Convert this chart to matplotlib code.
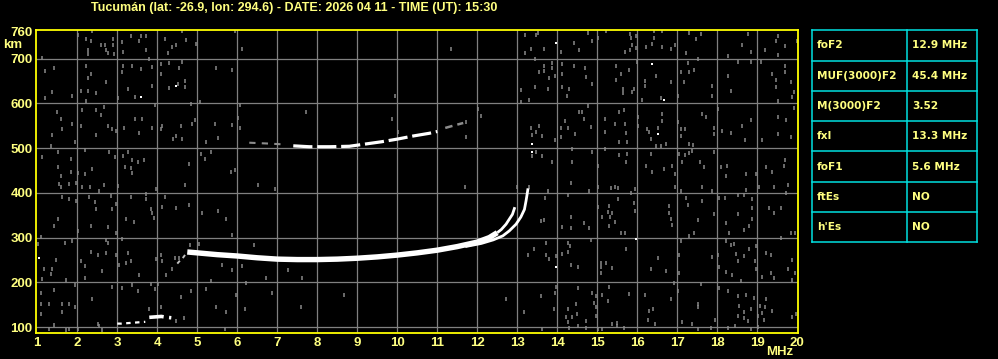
import numpy as np
import matplotlib
matplotlib.use("Agg")
import matplotlib.pyplot as plt

# ---- data ----
title = "Tucumán (lat: -26.9, lon: 294.6) - DATE: 2026 04 11 - TIME (UT): 15:30"

x_ticks = list(range(1, 21))
y_ticks = [100, 200, 300, 400, 500, 600, 700]

# F2 ordinary trace
o_freq = [4.75, 5.0, 5.5, 6.0, 6.5, 7.0, 7.5, 8.0, 8.5, 9.0, 9.5, 10.0, 10.5, 11.0,
          11.5, 12.0, 12.3, 12.5, 12.6, 12.72, 12.8, 12.88, 12.94]
o_height = [268, 266, 262, 259, 255, 252, 251, 251, 252, 254, 257, 261, 266, 272,
            280, 290, 300, 311, 318, 330, 341, 352, 368]

# F2 extraordinary trace
x_freq = [11.7, 12.1, 12.4, 12.64, 12.8, 12.97, 13.09, 13.18, 13.22, 13.24, 13.27]
x_height = [280, 287, 295, 304, 315, 330, 346, 363, 382, 393, 410]

# second hop
hop_freq = [7.4, 7.8, 8.3, 8.8, 9.2, 9.6, 10.0, 10.4, 10.8, 11.0]
hop_height = [505, 503, 503, 504, 509, 514, 520, 527, 533, 537]
hop_weak_freq = [6.3, 6.8, 7.2]
hop_weak_height = [512, 510, 508]
hop_tail_freq = [11.2, 11.4, 11.65]
hop_tail_height = [545, 550, 556]

# E region bits
e_freq = [3.0, 3.1, 3.25, 3.4, 3.55, 3.7, 3.8, 3.95, 4.1, 4.25, 4.35]
e_height = [108, 108, 109, 110, 111, 112, 122, 123, 124, 122, 121]

# bits below the F trace near 4.5 MHz
low_freq = [4.5, 4.58, 4.65, 4.7]
low_height = [242, 250, 256, 262]

# isolated white dots
white_f = [3.59, 4.48, 13.98, 16.38, 16.68, 13.38, 13.38, 16.53, 13.98, 15.98, 1.05]
white_h = [614, 639, 735, 688, 608, 509, 492, 531, 234, 296, 254]

# gray interference dots
noise_f = [
    2.03, 2.38, 2.23, 2.34, 2.26, 2.28, 2.59, 2.69, 2.72, 2.78, 2.9, 2.9, 2.93, 3.13, 3.15,
    3.34, 3.55, 3.59, 3.73, 3.73, 4.2, 4.38, 4.28, 4.47, 4.73, 4.98, 4.63, 5.94, 6.13, 1.13,
    1.19, 1.43, 2.23, 2.34, 2.26, 2.09, 2.28, 2.48, 2.73, 2.23, 1.88, 1.38, 1.19, 3.15, 3.13,
    3.36, 3.59, 3.8, 3.88, 4.09, 4.09, 4.3, 4.63, 4.55, 4.69, 4.51, 4.3, 4.69, 3.88, 3.28,
    3.45, 5.48, 5.88, 3.94, 3.03, 5.08, 4.84, 6.08, 9.94, 1.49, 1.59, 1.37, 1.34, 1.63, 1.87,
    1.95, 2.13, 2.48, 2.59, 2.68, 2.78, 2.88, 2.97, 2.48, 2.09, 3.17, 3.44, 3.63, 3.55, 3.87,
    4.13, 4.09, 4.4, 4.47, 4.59, 4.63, 4.88, 4.95, 5.23, 5.45, 5.53, 5.88, 6.02, 6.08, 7.73,
    9.88, 10.03, 1.12, 1.53, 1.84, 1.59, 1.53, 1.84, 2.03, 2.2, 2.38, 2.2, 2.8, 2.95, 3.15,
    3.28, 3.38, 3.53, 3.68, 3.2, 3.34, 3.37, 4.8, 5.09, 5.2, 5.34, 5.84, 5.94,
    11.34, 13.2, 13.48, 13.53, 14.09, 13.34, 13.2, 13.68, 14.43, 14.55, 14.78, 14.88, 15.03,
    15.23, 15.83, 15.84, 15.97, 15.88, 15.97, 15.7, 15.82, 16.43, 16.43, 16.38, 16.63, 16.63,
    16.23, 16.84, 16.95, 17.23, 17.3, 17.59, 17.48, 18.28, 18.63, 18.78, 18.84, 19.19, 19.51,
    19.48, 19.51, 19.69, 20.0, 13.44, 13.88, 13.68, 13.55, 13.66, 13.86, 13.8, 13.95, 14.13,
    14.43, 14.7, 14.73, 14.13, 13.45, 13.78, 13.09, 13.09, 13.3, 14.13, 14.24, 14.3, 14.88,
    15.48, 15.59, 15.8, 15.48, 15.65, 15.93, 15.88, 15.65, 16.0, 16.2, 16.2, 16.48, 16.84,
    16.59, 16.13, 17.18, 17.28, 17.09, 17.3, 17.43, 17.53, 17.88, 17.88, 17.03, 18.28, 18.34,
    18.53, 18.84, 19.09, 19.38, 19.48, 19.48, 19.69, 19.69, 19.84, 19.93, 19.88, 19.53, 12.03,
    12.09, 11.73, 11.73, 13.34, 13.38, 13.55, 13.62, 13.48, 13.38, 13.63, 13.48, 13.88, 13.95,
    14.09, 14.09, 14.19, 14.26, 14.45, 14.55, 14.63, 14.68, 14.78, 14.84, 14.38, 14.38, 14.88,
    15.03, 15.19, 15.19, 15.45, 15.55, 15.68, 15.7, 15.72, 15.55, 15.74, 15.55, 15.74, 15.73,
    15.19, 16.03, 16.03, 16.24, 16.3, 16.34, 16.53, 16.63, 16.63, 16.72, 16.59, 16.48, 16.34,
    16.22, 16.38, 16.68, 16.88, 16.95, 17.01, 17.09, 17.2, 17.09, 17.3, 17.4, 17.63, 17.73,
    17.93, 17.93, 18.01, 18.13, 18.34, 18.63, 18.7, 18.84, 19.13, 19.53, 19.53, 19.73, 19.84,
    19.93, 17.05, 17.2, 17.3, 17.13, 17.38, 17.57, 17.68, 17.93, 18.09, 18.24, 18.23, 18.73,
    19.38, 19.7, 19.68, 18.97, 19.22,
    1.55, 1.59, 1.8, 1.98, 2.13, 2.32, 2.55, 2.68, 3.03, 2.84, 2.97, 1.63, 1.8, 1.97, 2.3,
    2.45, 2.48, 2.88, 3.34, 3.72, 3.98, 3.73, 3.84, 3.88, 3.93, 4.13, 4.48, 4.8, 4.19, 4.69,
    5.13, 5.53, 5.73, 6.53, 6.94, 5.88, 1.53, 1.43, 2.03, 2.34, 3.23, 3.43, 2.78, 2.97, 1.09,
    1.03, 1.7, 1.88, 2.73, 2.76, 3.13, 1.48, 1.18, 1.38, 1.34, 2.09, 2.34, 2.51, 2.73,
    2.97, 3.05, 3.22, 3.34, 3.26, 2.2, 2.63, 2.2, 1.72, 1.13, 3.55, 3.98, 4.13, 4.09, 4.22,
    4.37, 4.45, 4.55, 4.82, 5.05, 5.63, 5.88, 6.13, 6.43, 5.34, 6.73, 7.63, 7.28,
    1.09, 1.43, 1.95, 1.09, 1.3, 1.63, 1.8, 1.95, 1.63, 1.09, 1.43, 1.3, 1.72, 1.8, 2.01,
    2.51, 2.55, 2.38, 2.88, 3.13, 3.38, 3.53, 3.84, 3.95, 4.03, 4.09, 3.8, 4.59, 4.84, 5.23,
    5.48, 5.73, 5.98, 6.19, 6.23, 5.7, 6.88, 7.59, 8.68, 4.68, 4.47, 2.63,
    11.7, 13.0, 13.3, 13.7, 13.78, 14.34, 14.28, 14.8, 15.03, 15.34, 15.45, 15.53, 15.53,
    15.84, 15.95, 15.93, 15.94, 15.3, 15.28, 15.38, 15.13, 15.32, 15.45, 15.3, 15.03, 14.8,
    14.68, 14.34, 14.13, 14.34, 13.68, 13.59, 15.59, 15.7, 14.84, 14.28, 14.13, 14.26, 14.32,
    13.73, 13.73, 13.8, 13.97, 13.43, 13.28, 14.34, 14.53, 15.09, 15.23, 15.09, 15.38,
    15.09, 15.73, 16.53, 16.34, 16.73, 16.8, 16.8, 16.84, 16.88, 16.95, 17.09, 17.23,
    17.28, 17.53, 17.63, 17.62, 17.43, 17.3, 17.09, 17.05, 17.05, 16.93, 17.88, 17.93, 18.04,
    18.2, 18.51, 18.68, 18.88, 18.88, 18.72, 19.05, 19.43, 19.76, 19.73, 19.3, 19.43, 19.59,
    19.59, 19.84, 19.95, 18.88, 18.51, 18.22, 18.3, 18.68, 18.8, 18.22, 18.34, 18.43, 18.8,
    18.48, 18.53, 18.68, 18.97, 18.95, 18.98, 19.12, 19.23, 19.34, 19.34, 19.43, 19.78, 19.88,
    19.88, 19.95, 17.87, 18.01, 18.04, 18.23, 18.38, 18.59,
    12.72, 13.59, 13.97, 13.95, 13.18, 13.63, 13.93, 14.26, 14.23, 14.38, 14.49, 14.47, 14.53,
    14.28, 14.3, 14.51, 14.73, 14.73, 14.88, 14.97, 14.97, 14.97, 14.93, 15.13, 15.26, 15.3,
    15.38, 15.49, 15.49, 15.68, 15.01, 15.13, 15.8, 16.2, 16.3, 16.4, 16.45, 16.28, 16.84,
    17.01, 17.13, 17.38, 17.53, 17.53, 17.59, 17.51, 17.84, 17.95, 18.04, 18.28, 18.51, 18.73,
    18.55, 18.68, 18.51, 18.68, 18.78, 18.84, 18.93, 19.07, 19.2, 19.13, 19.03, 19.18, 19.03,
    18.84, 19.23, 19.38, 19.88, 19.98, 18.45, 18.28,
]
noise_h = [
    753, 762, 744, 740, 718, 709, 731, 730, 720, 712, 744, 731, 710, 736, 715,
    750, 740, 750, 750, 718, 744, 725, 712, 730, 742, 732, 762, 762, 721, 702,
    673, 679, 684, 665, 656, 628, 628, 624, 648, 606, 617, 626, 612, 684, 671,
    684, 676, 698, 682, 687, 665, 691, 693, 679, 650, 643, 635, 636, 639, 633,
    613, 678, 675, 596, 612, 603, 598, 596, 617, 580, 566, 529, 505, 542, 553,
    513, 585, 584, 574, 591, 550, 543, 539, 529, 550, 545, 565, 565, 533, 545,
    549, 542, 520, 528, 550, 520, 553, 563, 513, 553, 523, 551, 568, 544, 581,
    565, 535, 479, 492, 476, 438, 457, 447, 444, 442, 453, 496, 492, 479, 483,
    492, 473, 470, 473, 457, 455, 444, 464, 487, 476, 492, 447, 451,
    721, 752, 752, 757, 715, 721, 712, 721, 735, 720, 757, 740, 745,
    762, 755, 745, 751, 730, 723, 715, 718, 762, 745, 732, 762, 725,
    725, 721, 730, 712, 757, 755, 744, 705, 730, 755, 715, 718, 751,
    740, 708, 727, 740, 699, 691, 684, 671, 673, 678, 656, 662, 688,
    684, 678, 658, 665, 637, 632, 630, 602, 607, 636, 617, 633, 643,
    683, 665, 675, 653, 633, 633, 625, 622, 693, 650, 639, 660, 648,
    611, 608, 648, 691, 671, 671, 675, 699, 639, 617, 617, 662, 628,
    693, 693, 693, 665, 653, 636, 684, 671, 647, 625, 613, 606, 587,
    571, 559, 524, 544, 529, 549, 528, 535, 483, 483, 492, 468, 519,
    544, 524, 561, 544, 531, 581, 581, 566, 593, 546, 498, 468, 492,
    461, 565, 537, 554, 580, 584, 554, 534, 514, 513, 485, 487, 468,
    499, 569, 550, 543, 535, 520, 544, 576, 561, 509, 505, 505, 487,
    461, 446, 453, 461, 442, 559, 543, 543, 528, 509, 507, 576, 569,
    544, 531, 587, 539, 534, 549, 519, 563, 517, 569, 531, 563, 524,
    589, 487, 485, 488, 470, 494, 468, 457, 492, 457, 461, 438, 442,
    446, 474, 459, 442, 457,
    420, 413, 419, 423, 413, 413, 404, 418, 415, 393, 374, 391, 386, 382, 391,
    380, 363, 365, 391, 398, 408, 386, 363, 356, 343, 368, 367, 373, 391, 418,
    356, 360, 341, 418, 408, 306, 341, 326, 315, 326, 341, 336, 323, 311, 301,
    285, 289, 292, 294, 289, 296, 249, 229, 229, 218, 248, 269, 261, 266,
    261, 240, 244, 248, 266, 237, 226, 209, 205, 207, 217, 252, 248, 261, 217,
    229, 255, 254, 284, 285, 240, 227, 237, 284, 203, 209, 209, 227,
    177, 182, 194, 152, 152, 152, 152, 144, 135, 130, 106, 97, 93, 95, 97,
    108, 103, 164, 190, 187, 194, 181, 196, 185, 197, 144, 140, 167, 181, 185,
    144, 135, 172, 140, 198, 95, 177, 144, 172, 121, 114, 93,
    413, 412, 412, 389, 404, 423, 395, 404, 413, 410, 412, 410, 386,
    400, 408, 378, 359, 371, 358, 356, 346, 345, 336, 326, 368, 322,
    333, 346, 324, 322, 339, 337, 311, 311, 294, 289, 263, 269, 281,
    289, 261, 252, 259, 274, 261, 240, 234, 244, 244, 234, 233,
    222, 274, 255, 229, 226, 371, 356, 341, 328, 413, 404, 388,
    373, 339, 382, 413, 311, 304, 293, 261, 222, 199, 404, 352, 388,
    388, 395, 395, 386, 367, 406, 413, 413, 418, 400, 367, 356, 367,
    300, 311, 311, 341, 352, 333, 311, 318, 326, 293, 284, 285, 274,
    263, 248, 259, 281, 248, 229, 212, 266, 261, 220, 209, 229, 249,
    205, 222, 257, 261, 234, 224, 217, 203,
    164, 170, 190, 177, 135, 95, 140, 140, 123, 123, 130, 152, 188,
    112, 99, 103, 114, 99, 177, 170, 145, 125, 155, 173, 158, 190,
    108, 110, 103, 99, 95, 95, 175, 172, 136, 140, 108, 115, 164,
    181, 112, 108, 152, 144, 196, 95, 99, 115, 187, 181, 170, 172,
    147, 135, 125, 120, 114, 140, 166, 147, 145, 132, 125, 117, 100,
    95, 162, 136, 123, 129, 103, 99,
]

# parameter table
param_names = ["foF2", "MUF(3000)F2", "M(3000)F2", "fxI", "foF1", "ftEs", "h'Es"]
param_values = ["12.9 MHz", "45.4 MHz", "3.52", "13.3 MHz", "5.6 MHz", "NO", "NO"]

# ---- styles ----
W, H = 998, 359
YELLOW = "#ffff00"
TEXT = "#ffff80"
GRID = "#808080"
CYAN = "#00e0e0"
FONT = "Liberation Sans"

fig = plt.figure(figsize=(W / 100, H / 100), dpi=100, facecolor="black")


def px_box(x0, y0, x1, y1):
    """pixel box (top-left origin) -> figure fraction rect"""
    return [x0 / W, 1 - y1 / H, (x1 - x0) / W, (y1 - y0) / H]


ax = fig.add_axes(px_box(35.5, 29.5, 798, 332.7), facecolor="black")
ax.set_xlim(0.955, 20.02)
ax.set_ylim(87.7, 764.8)

# grid
for f in x_ticks[1:-1]:
    ax.axvline(f, color=GRID, lw=0.9, zorder=1)
for h in y_ticks:
    ax.axhline(h, color=GRID, lw=0.9, zorder=1)

# noise (short vertical specks)
ax.scatter(noise_f, noise_h, s=6, marker="|", c="#8a8a8a", linewidths=1.1, zorder=2)
ax.scatter(white_f, white_h, s=4, marker="s", c="white", linewidths=0, zorder=3)

# traces
of = np.array(o_freq)
oh = np.array(o_height)
thick = of <= 12.5
thin = of >= 12.5
ax.plot(of[thick], oh[thick], color="white", lw=3.9, solid_capstyle="butt", zorder=4)
ax.plot(of[thin], oh[thin], color="white", lw=2.0, solid_capstyle="butt", zorder=4)
ax.plot(x_freq, x_height, color="white", lw=2.0, solid_capstyle="butt", zorder=4)

ax.plot(hop_freq, hop_height, color="white", lw=2.3, dashes=(6, 1.5), zorder=4)
ax.plot(hop_weak_freq, hop_weak_height, color="#8c8c8c", lw=1.5, dashes=(3, 3), zorder=3)
ax.plot(hop_tail_freq, hop_tail_height, color="#8c8c8c", lw=1.8, dashes=(3, 2), zorder=3)

ax.plot(e_freq[:6], e_height[:6], color="white", lw=1.6, dashes=(2, 2), zorder=4)
ax.plot(e_freq[6:], e_height[6:], color="white", lw=2.6, dashes=(4, 1.5), zorder=4)
ax.plot(low_freq, low_height, color="#c0c0c0", lw=1.4, dashes=(2, 2), zorder=3)

# frame and ticks
for s in ax.spines.values():
    s.set_color(YELLOW)
    s.set_linewidth(1.3)
ax.set_xticks(x_ticks)
ax.set_xticklabels([str(v) for v in x_ticks])
ax.set_yticks(y_ticks + [760])
ax.set_yticklabels([str(v) for v in y_ticks] + ["760"])
ax.tick_params(length=0, colors=TEXT, labelsize=9.5, pad=3)
for lab in ax.get_xticklabels() + ax.get_yticklabels():
    lab.set_fontfamily(FONT)
    lab.set_fontweight("bold")
    lab.set_color(TEXT)
ax.tick_params(axis="y", pad=2)

fig.text(13 / W, 1 - 45 / H, "km", color=TEXT, fontsize=9.5, fontweight="bold",
         family=FONT, ha="center", va="center")
fig.text(780 / W, 1 - 352 / H, "MHz", color=TEXT, fontsize=9.5, fontweight="bold",
         family=FONT, ha="center", va="center")
fig.text(294 / W, 1 - 7.5 / H, title, color=TEXT, fontsize=9.0, fontweight="bold",
         family=FONT, ha="center", va="center")

# parameter table
tx0, ty0, tx1, ty1, tmid = 812, 30.3, 977, 242.3, 907
tab = fig.add_axes(px_box(tx0, ty0, tx1, ty1))
tab.set_xlim(tx0, tx1)
tab.set_ylim(ty1, ty0)
tab.axis("off")
n = len(param_names)
row_h = (ty1 - ty0) / n
for i in range(n + 1):
    tab.plot([tx0, tx1], [ty0 + i * row_h] * 2, color=CYAN, lw=1.1, clip_on=False)
for xv in [tx0, tmid, tx1]:
    tab.plot([xv, xv], [ty0, ty1], color=CYAN, lw=1.1, clip_on=False)
for i, (name, val) in enumerate(zip(param_names, param_values)):
    yc = ty0 + (i + 0.5) * row_h
    tab.text(tx0 + 5, yc, name, color=TEXT, fontsize=7.6, fontweight="bold",
             family="DejaVu Sans", va="center", ha="left")
    tab.text(tmid + 5, yc, val, color=TEXT, fontsize=7.6, fontweight="bold",
             family="DejaVu Sans", va="center", ha="left")

fig.savefig("out.png", dpi=100, facecolor="black")
